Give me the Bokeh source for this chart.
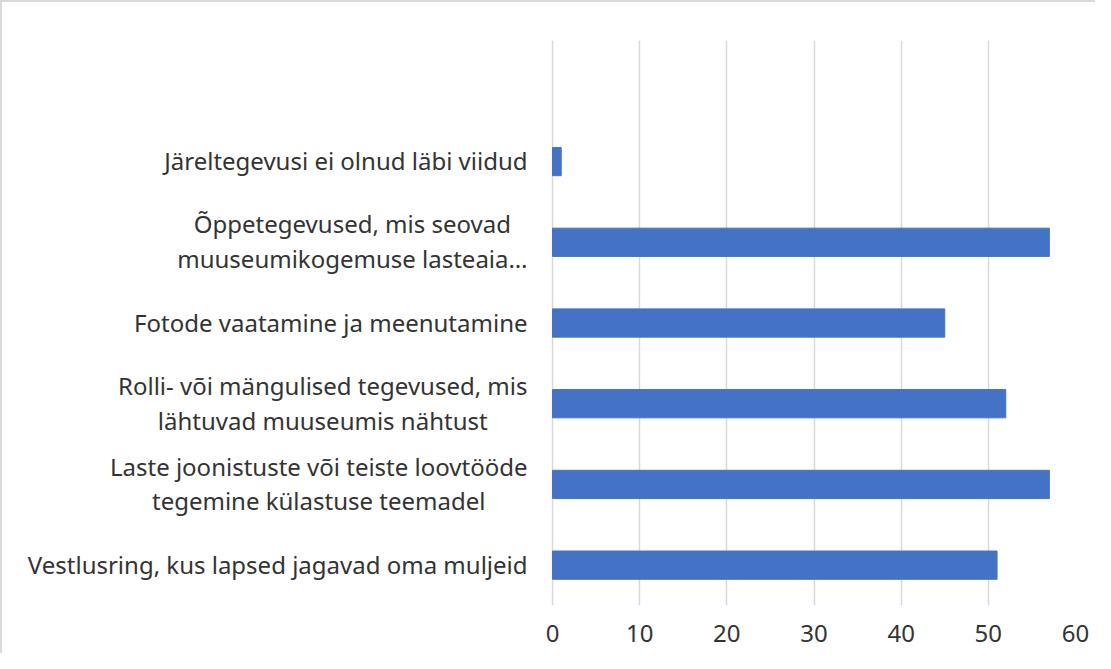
from bokeh.plotting import figure
from bokeh.models import ColumnDataSource, Range1d, FixedTicker
from bokeh.core.properties import value
from bokeh.embed import file_html
from bokeh.resources import INLINE

categories = [
    "Vestlusring, kus lapsed jagavad oma muljeid",
    "Laste joonistuste või teiste loovtööde\ntegemine külastuse teemadel",
    "Rolli- või mängulised tegevused, mis\nlähtuvad muuseumis nähtust",
    "Fotode vaatamine ja meenutamine",
    "Õppetegevused, mis seovad\nmuuseumikogemuse lasteaia…",
    "Järeltegevusi ei olnud läbi viidud",
]
values = [51, 57, 52, 45, 57, 1]
x_ticks = [0, 10, 20, 30, 40, 50, 60]

positions = list(range(1, len(categories) + 1))
src = ColumnDataSource(dict(y=positions, v=values, lab=categories, x0=[0] * len(categories)))

# frame spans the whole width; the value axis 0..60 occupies the right part
W, H = 1095, 653
label_px, axis_px, right_px = 550, 523, 22
x_start = -60 * label_px / axis_px

p = figure(width=W, height=H, output_backend="svg", toolbar_location=None,
           x_range=Range1d(x_start, 60), y_range=Range1d(0.5, len(categories) + 1.5),
           min_border_left=0, min_border_right=right_px, min_border_top=38, min_border_bottom=50)

font = "Noto Sans"
txt = "#333333"

p.xgrid.ticker = FixedTicker(ticks=x_ticks)
p.xgrid.grid_line_color = "#d9d9d9"
p.xgrid.grid_line_width = 1.5
p.ygrid.grid_line_color = None

p.hbar(y="y", right="v", left=0, height=0.35, source=src,
       fill_color="#4472C4", line_color="#4472C4")

p.text(x="x0", y="y", text="lab", source=src, x_offset=-25, y_offset=-1,
       anchor=value("center_right"), text_align="center", text_baseline="middle",
       text_font=value(font), text_font_size="24px", text_color=txt,
       text_line_height=1.05)

p.xaxis.ticker = FixedTicker(ticks=x_ticks)
p.xaxis.axis_line_color = None
p.xaxis.major_tick_line_color = None
p.xaxis.minor_tick_line_color = None
p.xaxis.major_label_text_font = font
p.xaxis.major_label_text_font_size = "24px"
p.xaxis.major_label_text_color = txt
p.xaxis.major_label_standoff = 13

p.yaxis.visible = False
p.outline_line_color = None
p.styles = {"border-top": "2px solid #d9d9d9", "border-left": "2px solid #d9d9d9"}

open("out.html", "w").write(file_html(p, INLINE))
